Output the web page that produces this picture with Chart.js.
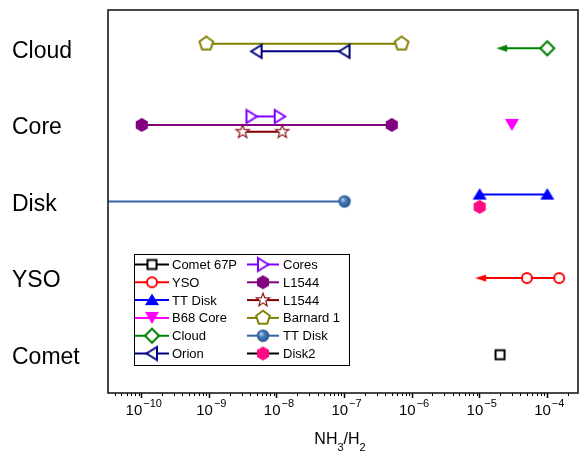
<!DOCTYPE html>
<html><head><meta charset="utf-8">
<script src="https://cdn.jsdelivr.net/npm/chart.js@4.4.1/dist/chart.umd.min.js"></script>
<style>html,body{margin:0;padding:0;background:#fff;} canvas{display:block;}</style>
</head><body>
<canvas id="c" width="579" height="455"></canvas>
<script>
// ---------- data ----------
const categories = ['Comet', 'YSO', 'Disk', 'Core', 'Cloud']; // y = 1..5
const xTickExponents = [-10, -9, -8, -7, -6, -5, -4];
const xAxisTitle = [['NH', 0], ['3', 1], ['/H', 0], ['2', 1]]; // [text, isSubscript]

const seriesLabels = ['Comet 67P', 'YSO', 'TT Disk', 'B68 Core', 'Cloud', 'Orion',
                      'Cores', 'L1544', 'L1544', 'Barnard 1', 'TT Disk', 'Disk2'];

const comet67P_x = [2e-5];              const comet67P_y = [1];
const yso_x = [1.05e-5, 5e-5, 1.5e-4];  const yso_y = [2, 2, 2];
const ttDisk_x = [1e-5, 1e-4];          const ttDisk_y = [3.09, 3.09];
const b68Core_x = [3e-5];               const b68Core_y = [4];
const cloud_x = [2.15e-5, 1e-4];        const cloud_y = [5, 5];
const orion_x = [5e-9, 1e-7];           const orion_y = [4.96, 4.96];
const cores_x = [4.2e-9, 1.1e-8];       const cores_y = [4.11, 4.11];
const l1544a_x = [1e-10, 5e-7];         const l1544a_y = [4, 4];
const l1544b_x = [3.1e-9, 1.2e-8];      const l1544b_y = [3.91, 3.91];
const barnard1_x = [9e-10, 7e-7];       const barnard1_y = [5.06, 5.06];
const ttDisk2_x = [1e-11, 1e-7];        const ttDisk2_y = [3, 3];
const disk2_x = [1e-5];                 const disk2_y = [2.93];

// ---------- helpers ----------
const FONT = '"Liberation Sans", Arial, sans-serif';
const zip = (xs, ys) => xs.map((x, i) => ({x, y: ys[i]}));

function marker(shape, color, o = {}) {
  const S = 20, m = S / 2;
  const c = document.createElement('canvas'); c.width = S; c.height = S;
  const g = c.getContext('2d');
  g.lineWidth = o.lw ?? 2; g.strokeStyle = color; g.fillStyle = o.fill ?? color;
  g.lineJoin = 'miter';
  g.beginPath();
  const poly = pts => { pts.forEach(([x, y], i) => i ? g.lineTo(m + x, m + y) : g.moveTo(m + x, m + y)); g.closePath(); };
  const reg = (n, r, rot) => { const p = []; for (let k = 0; k < n; k++) { const a = (rot + k * 360 / n) * Math.PI / 180; p.push([r * Math.cos(a), r * Math.sin(a)]); } poly(p); };
  switch (shape) {
    case 'square': g.rect(m - 4.5, m - 4.5, 9, 9); break;
    case 'circle': g.arc(m, m, 5, 0, Math.PI * 2); break;
    case 'triUp': poly([[0, -6.5], [7, 5], [-7, 5]]); break;
    case 'triDown': poly([[-7, -6], [7, -6], [0, 6]]); break;
    case 'triLeft': poly([[-5.5, 0], [5, -6.5], [5, 6.5]]); break;
    case 'triRight': poly([[5.5, 0], [-5, -6.5], [-5, 6.5]]); break;
    case 'diamond': poly([[0, -7], [7, 0], [0, 7], [-7, 0]]); break;
    case 'hexagon': reg(6, 7, -90); break;
    case 'pentagon': reg(5, 7.2, -90); break;
    case 'star': { const p = []; for (let k = 0; k < 10; k++) { const r = k % 2 ? 2.9 : 7; const a = (-90 + k * 36) * Math.PI / 180; p.push([r * Math.cos(a), r * Math.sin(a)]); } poly(p); break; }
    case 'arrowLeft': poly([[-6, 0], [5, -3.5], [5, 3.5]]); break;
    case 'sphere': {
      const gr = g.createRadialGradient(m - 2, m - 2, 0.5, m, m, 6.5);
      gr.addColorStop(0, '#b8cde8'); gr.addColorStop(0.35, '#4a7fbd'); gr.addColorStop(1, '#244f88');
      g.fillStyle = gr; g.arc(m, m, 6.2, 0, Math.PI * 2); g.fill(); return c;
    }
  }
  if (o.open) { g.fillStyle = '#fff'; g.fill(); g.stroke(); }
  else { g.fill(); if (o.lw) g.stroke(); }
  return c;
}

const C = {
  black: '#000000', red: '#ff0000', blue: '#0000ff', magenta: '#ff00ff', green: '#008000',
  navy: '#000080', violet: '#8000ff', purple: '#800080', wine: '#800000', olive: '#808000',
  steel: '#3465a4', pink: '#ff0a80'
};
const M = {
  comet: marker('square', C.black, {open: true}),
  yso: marker('circle', C.red, {open: true}),
  ysoArrow: marker('arrowLeft', C.red),
  ttDisk: marker('triUp', C.blue),
  b68: marker('triDown', C.magenta),
  cloud: marker('diamond', C.green, {open: true}),
  cloudArrow: marker('arrowLeft', C.green),
  orion: marker('triLeft', C.navy, {open: true}),
  cores: marker('triRight', C.violet, {open: true}),
  l1544a: marker('hexagon', C.purple),
  l1544b: marker('star', C.wine, {open: true, lw: 1.1}),
  barnard: marker('pentagon', C.olive, {open: true}),
  ttDisk2: marker('sphere', C.steel),
  disk2: marker('hexagon', C.pink)
};

function ds(i, pts, color, style, legendStyle, extra = {}) {
  return Object.assign({
    label: seriesLabels[i], data: pts, borderColor: color, backgroundColor: color,
    borderWidth: 2, pointStyle: style, pointRadius: 6, pointHoverRadius: 6,
    showLine: true, fill: false, tension: 0, legendStyle
  }, extra);
}

const datasets = [
  ds(0, zip(comet67P_x, comet67P_y), C.black, M.comet, M.comet),
  ds(1, zip(yso_x, yso_y), C.red, [M.ysoArrow, M.yso, M.yso], M.yso),
  ds(2, zip(ttDisk_x, ttDisk_y), C.blue, M.ttDisk, M.ttDisk),
  ds(3, zip(b68Core_x, b68Core_y), C.magenta, M.b68, M.b68),
  ds(4, zip(cloud_x, cloud_y), C.green, [M.cloudArrow, M.cloud], M.cloud),
  ds(5, zip(orion_x, orion_y), C.navy, M.orion, M.orion),
  ds(6, zip(cores_x, cores_y), C.violet, M.cores, M.cores),
  ds(7, zip(l1544a_x, l1544a_y), C.purple, M.l1544a, M.l1544a),
  ds(8, zip(l1544b_x, l1544b_y), C.wine, M.l1544b, M.l1544b),
  ds(9, zip(barnard1_x, barnard1_y), C.olive, M.barnard, M.barnard),
  ds(10, zip(ttDisk2_x, ttDisk2_y), C.steel, M.ttDisk2, M.ttDisk2,
     {pointRadius: [0, 6], clip: {left: 0, right: 20, top: 20, bottom: 20}}),
  ds(11, zip(disk2_x, disk2_y), C.black, M.disk2, M.disk2)
];

// ---------- decorations plugin ----------
const deco = {
  id: 'deco',
  afterDraw(chart) {
    const {ctx, chartArea: a} = chart;
    const xs = chart.scales.x;
    ctx.save();
    // minor ticks
    ctx.strokeStyle = '#000'; ctx.lineWidth = 1;
    const lo = Math.floor(Math.log10(xs.min)), hi = Math.ceil(Math.log10(xs.max));
    for (let e = lo; e <= hi; e++) for (let k = 2; k <= 9; k++) {
      const v = k * Math.pow(10, e);
      if (v < xs.min || v > xs.max) continue;
      const px = Math.round(xs.getPixelForValue(v)) + 0.5;
      ctx.beginPath(); ctx.moveTo(px, a.bottom); ctx.lineTo(px, a.bottom + 3); ctx.stroke();
    }
    // frame
    ctx.lineWidth = 1.6; ctx.strokeStyle = '#1a1a1a';
    ctx.strokeRect(a.left, a.top, a.right - a.left, a.bottom - a.top);
    // x tick labels with superscript
    ctx.fillStyle = '#000'; ctx.textBaseline = 'alphabetic'; ctx.textAlign = 'left';
    const baseFont = '15px ' + FONT, supFont = '11px ' + FONT;
    xTickExponents.forEach(e => {
      const px = xs.getPixelForValue(Math.pow(10, e));
      const exp = '\u2212' + Math.abs(e);
      ctx.font = baseFont; const w1 = ctx.measureText('10').width;
      ctx.font = supFont; const w2 = ctx.measureText(exp).width;
      const x0 = px - (w1 + w2 + 1) / 2 + 2;
      ctx.font = baseFont; ctx.fillText('10', x0, a.bottom + 22);
      ctx.font = supFont; ctx.fillText(exp, x0 + w1 + 1, a.bottom + 14);
    });
    // axis title with subscripts
    const tf = '16px ' + FONT, sf = '11px ' + FONT;
    let tw = 0;
    xAxisTitle.forEach(([t, s]) => { ctx.font = s ? sf : tf; tw += ctx.measureText(t).width; });
    let tx = (a.left + a.right) / 2 - tw / 2 - 3;
    xAxisTitle.forEach(([t, s]) => {
      ctx.font = s ? sf : tf;
      ctx.fillText(t, tx, a.bottom + (s ? 58 : 51));
      tx += ctx.measureText(t).width;
    });
    // legend
    const L = {left: 134, top: 254, w: 215, h: 111, first: 10.5, row: 17.8,
      cols: [{l0: 135, l1: 169, mx: 152, tx: 172}, {l0: 247, l1: 279, mx: 263, tx: 283}]};
    ctx.fillStyle = '#fff'; ctx.fillRect(L.left, L.top, L.w, L.h);
    ctx.strokeStyle = '#000'; ctx.lineWidth = 1;
    ctx.strokeRect(L.left + 0.5, L.top + 0.5, L.w, L.h);
    ctx.font = '13px ' + FONT; ctx.textBaseline = 'middle';
    chart.data.datasets.forEach((d, i) => {
      const col = L.cols[i < 6 ? 0 : 1];
      const y = L.top + L.first + (i % 6) * L.row;
      ctx.strokeStyle = d.borderColor; ctx.lineWidth = 2;
      ctx.beginPath(); ctx.moveTo(col.l0, y); ctx.lineTo(col.l1, y); ctx.stroke();
      const im = d.legendStyle;
      ctx.drawImage(im, col.mx - im.width / 2, y - im.height / 2);
      ctx.fillStyle = '#000'; ctx.fillText(d.label, col.tx, y + 1);
    });
    ctx.restore();
  }
};

new Chart(document.getElementById('c'), {
  type: 'line',
  data: {datasets},
  options: {
    responsive: false, animation: false, events: [],
    layout: {autoPadding: false, padding: {left: 12, top: 10, right: 1, bottom: 0}},
    plugins: {legend: {display: false}, tooltip: {enabled: false}},
    scales: {
      x: {
        type: 'logarithmic', position: 'bottom',
        min: Math.pow(10, -10.5), max: Math.pow(10, -3.545),
        afterBuildTicks: s => { s.ticks = xTickExponents.map(e => ({value: Math.pow(10, e), major: true})); },
        ticks: {display: false},
        grid: {display: true, drawOnChartArea: false, drawTicks: true, tickLength: 5, tickColor: '#000', tickWidth: 1.5},
        border: {display: false},
        afterFit: s => { s.height = 62; s.paddingLeft = 0; s.paddingRight = 0; }
      },
      y: {
        type: 'linear', min: 0.5, max: 5.5,
        afterBuildTicks: s => { s.ticks = categories.map((c, i) => ({value: i + 1})); },
        ticks: {callback: v => categories[v - 1], font: {family: FONT, size: 23}, color: '#000',
                crossAlign: 'far', padding: 14, labelOffset: 3},
        grid: {display: false, drawTicks: false, tickLength: 0},
        border: {display: false},
        afterFit: s => { s.width = 96; s.paddingTop = 0; s.paddingBottom = 0; }
      }
    }
  },
  plugins: [deco]
});
</script>
</body></html>
